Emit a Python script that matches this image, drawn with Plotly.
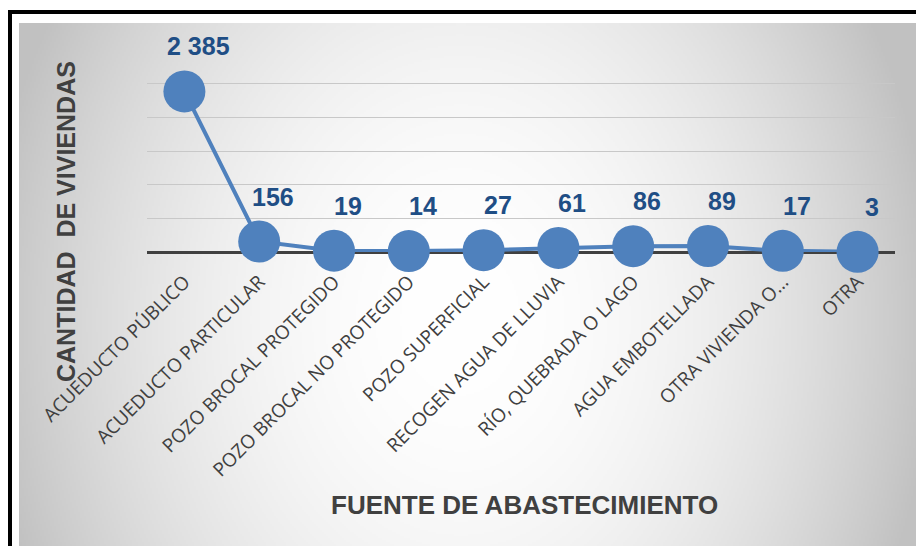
import base64
import struct
import zlib

import plotly.graph_objects as go

fuentes = [
    "ACUEDUCTO PÚBLICO",
    "ACUEDUCTO PARTICULAR",
    "POZO BROCAL PROTEGIDO",
    "POZO BROCAL NO PROTEGIDO",
    "POZO SUPERFICIAL",
    "RECOGEN AGUA DE LLUVIA",
    "RÍO, QUEBRADA O LAGO",
    "AGUA EMBOTELLADA",
    "OTRA VIVIENDA O...",
    "OTRA",
]
viviendas = [2385, 156, 19, 14, 27, 61, 86, 89, 17, 3]

# page body has an 8px margin, so the figure is drawn 8px in from the window corner
OFF = 8
W, H = 924 - OFF, 554 - 2 * OFF
L, T = 147 - OFF, 50 - OFF
R, B = W - (895 - OFF), H - (252 - OFF)
PW, PH = W - L - R, H - T - B


def px_x(sx):
    return (sx - OFF - L) / PW


def px_y(sy):
    return 1 - (sy - OFF - T) / PH


def gradient_png(w, h):
    # grey radial background like the Excel chart area
    rows = []
    for j in range(h):
        row = bytearray([0])
        py = 23 + (j + 0.5) * 524 / h
        for i in range(w):
            px = 19 + (i + 0.5) * 905 / w
            d2 = ((px - 460) / 478) ** 2 + ((py - 320) / 602) ** 2
            row.append(int(255 - 62 * min(1.0, d2)))
        rows.append(bytes(row))

    def chunk(tag, data):
        c = struct.pack(">I", len(data)) + tag + data
        return c + struct.pack(">I", zlib.crc32(tag + data) & 0xFFFFFFFF)

    png = b"\x89PNG\r\n\x1a\n"
    png += chunk(b"IHDR", struct.pack(">IIBBBBB", w, h, 8, 0, 0, 0, 0))
    png += chunk(b"IDAT", zlib.compress(b"".join(rows), 9))
    png += chunk(b"IEND", b"")
    return "data:image/png;base64," + base64.b64encode(png).decode()


fig = go.Figure()
fig.add_trace(
    go.Scatter(
        x=fuentes,
        y=viviendas,
        mode="lines+markers",
        line=dict(color="#4F81BD", width=4),
        marker=dict(color="#4F81BD", size=42),
        cliponaxis=False,
        hoverinfo="x+y",
    )
)

for f, v in zip(fuentes, viviendas):
    fig.add_annotation(
        x=f, y=v, text="<b>" + f"{v:,}".replace(",", " ") + "</b>",
        showarrow=False, xshift=14, yshift=45,
        font=dict(family="Liberation Sans, Arial", size=25, color="#1F4E85"),
    )

fig.add_annotation(
    xref="paper", yref="paper", x=px_x(66), y=px_y(222),
    xanchor="center", yanchor="middle",
    text="<b>CANTIDAD  DE VIVIENDAS</b>", textangle=-90, showarrow=False,
    font=dict(family="Liberation Sans, Arial", size=25, color="#404040"),
)
fig.add_annotation(
    xref="paper", yref="paper", x=px_x(524), y=px_y(505),
    xanchor="center", yanchor="middle",
    text="<b>FUENTE DE ABASTECIMIENTO</b>", showarrow=False,
    font=dict(family="Liberation Sans, Arial", size=26, color="#404040"),
)

fig.add_layout_image(
    source=gradient_png(453, 262),
    xref="paper", yref="paper",
    x=px_x(19), y=px_y(23), sizex=905 / PW, sizey=524 / PH,
    xanchor="left", yanchor="top", sizing="stretch", layer="below",
)
fig.add_shape(
    type="rect", xref="paper", yref="paper",
    x0=px_x(10), y0=px_y(12), x1=px_x(980), y1=px_y(620),
    line=dict(color="black", width=4),
)

fig.update_layout(
    width=W, height=H,
    margin=dict(l=L, r=R, t=T, b=B, autoexpand=False),
    paper_bgcolor="white",
    plot_bgcolor="rgba(0,0,0,0)",
    showlegend=False,
)
fig.update_xaxes(
    range=[-0.5, len(fuentes) - 0.5],
    tickangle=-45,
    ticklabelstandoff=14,
    tickfont=dict(family="Open Sans", size=19, color="#404040"),
    showgrid=False,
    automargin=False,
)
fig.update_yaxes(
    range=[0, 3001],
    dtick=500,
    showticklabels=False,
    gridcolor="#c8c8c8",
    gridwidth=1,
    zeroline=True,
    zerolinecolor="#404040",
    zerolinewidth=3,
    automargin=False,
)

fig.write_html("out.html")
